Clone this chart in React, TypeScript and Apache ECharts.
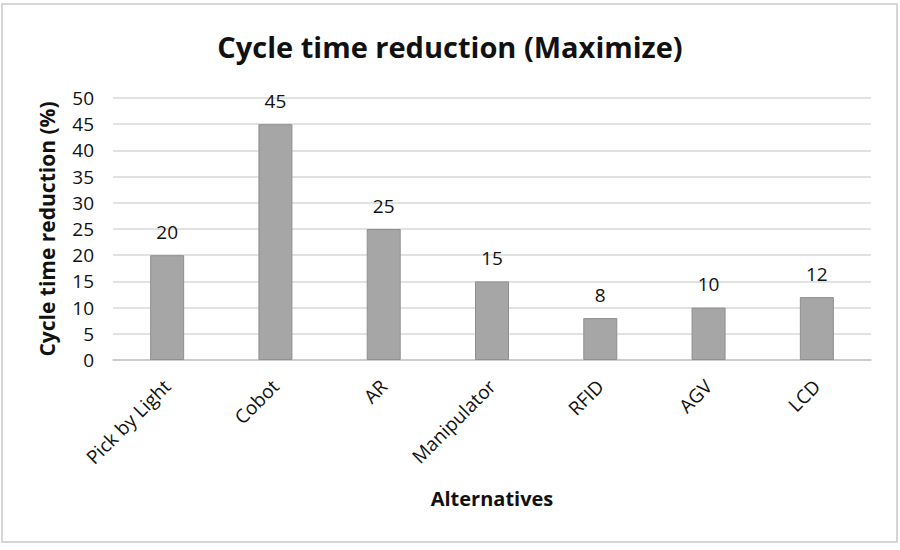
import React, { useEffect, useRef } from "react";
import * as echarts from "echarts";

const categories = ["Pick by Light", "Cobot", "AR", "Manipulator", "RFID", "AGV", "LCD"];
const reductionValues = [20, 45, 25, 15, 8, 10, 12];
const yTicks = { min: 0, max: 50, interval: 5 };

const FONT = "'Open Sans', 'Noto Sans', sans-serif";

export default function App() {
  const ref = useRef<HTMLDivElement>(null);

  useEffect(() => {
    document.body.style.margin = "0";
    const chart = echarts.init(ref.current!, null, { renderer: "svg" });
    chart.setOption({
      animation: false,
      backgroundColor: "#ffffff",
      textStyle: { fontFamily: FONT },
      title: {
        text: "Cycle time reduction (Maximize)",
        left: "center",
        top: 27,
        textStyle: { fontFamily: FONT, fontSize: 29, fontWeight: "bold", color: "#111" },
      },
      graphic: [
        {
          type: "rect",
          shape: { x: 2, y: 4, width: 895, height: 538 },
          style: { fill: "none", stroke: "#d6d6d6", lineWidth: 2 },
          silent: true,
        },
      ],
      grid: { left: 113, right: 29, top: 98, bottom: 190 },
      xAxis: {
        type: "category",
        data: categories,
        name: "Alternatives",
        nameLocation: "middle",
        nameGap: 128,
        nameTextStyle: { fontFamily: FONT, fontSize: 20, fontWeight: "bold", color: "#111" },
        axisLine: { lineStyle: { color: "#c4c4c4", width: 1.5 } },
        axisTick: { show: false },
        axisLabel: {
          interval: 0,
          rotate: 45,
          fontFamily: FONT,
          fontSize: 19,
          color: "#111",
          margin: 23,
        },
      },
      yAxis: {
        type: "value",
        min: yTicks.min,
        max: yTicks.max,
        interval: yTicks.interval,
        name: "Cycle time reduction (%)",
        nameLocation: "middle",
        nameGap: 56,
        nameTextStyle: { fontFamily: FONT, fontSize: 21, fontWeight: "bold", color: "#111" },
        axisLine: { show: false },
        axisTick: { show: false },
        axisLabel: { fontFamily: FONT, fontSize: 19, color: "#111", margin: 19 },
        splitLine: { lineStyle: { color: "#d9d9d9", width: 1.5 } },
      },
      series: [
        {
          type: "bar",
          data: reductionValues,
          barWidth: 34,
          itemStyle: { color: "#a6a6a6", borderColor: "#8f8f8f", borderWidth: 1 },
          label: {
            show: true,
            position: "top",
            distance: 14,
            fontFamily: FONT,
            fontSize: 19,
            color: "#111",
          },
        },
      ],
    });
    return () => chart.dispose();
  }, []);

  return <div ref={ref} style={{ width: 900, height: 550 }} />;
}
